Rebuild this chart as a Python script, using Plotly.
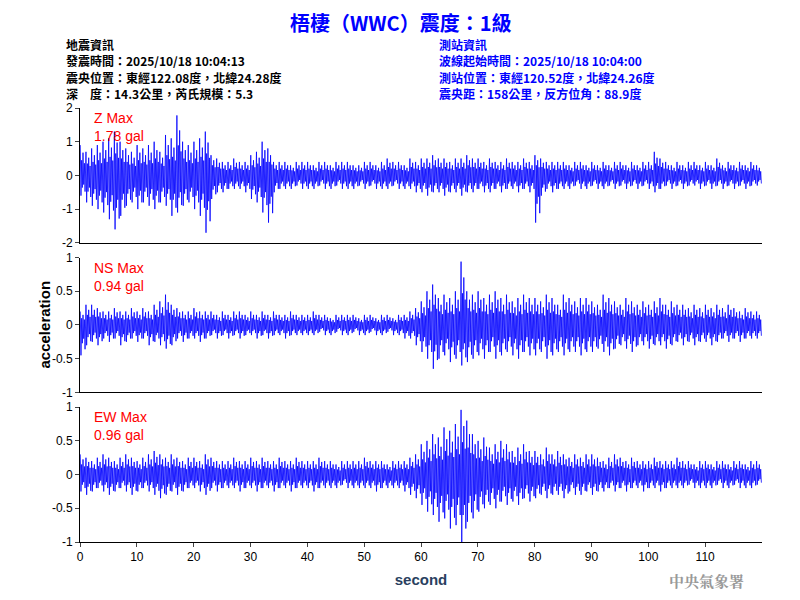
import plotly.graph_objects as go
from plotly.subplots import make_subplots

seconds = list(range(120))
z_hi = [0.9,0.7,0.8,0.9,1.0,1.1,1.3,1.0,0.8,0.7, 0.9,0.8,0.9,1.0,0.7,1.2,1.1,1.78,1.0,0.9,
        1.0,1.1,1.3,0.6,0.5,0.4,0.4,0.5,0.4,0.4, 0.6,0.7,1.0,0.8,0.4,0.4,0.4,0.3,0.4,0.4,
        0.4,0.3,0.4,0.4,0.3,0.4,0.4,0.4,0.3,0.3, 0.4,0.4,0.3,0.4,0.5,0.4,0.4,0.3,0.5,0.4,
        0.5,0.5,0.6,0.5,0.5,0.4,0.5,0.5,0.6,0.5, 0.5,0.4,0.5,0.4,0.4,0.5,0.4,0.4,0.5,0.4,
        0.6,0.5,0.4,0.4,0.4,0.4,0.3,0.4,0.4,0.3, 0.4,0.3,0.4,0.3,0.4,0.4,0.3,0.4,0.3,0.4,
        0.4,0.7,0.5,0.4,0.3,0.4,0.3,0.4,0.4,0.3, 0.4,0.3,0.5,0.3,0.4,0.3,0.4,0.3,0.4,0.3]
z_lo = [-0.6,-0.8,-0.9,-1.0,-1.1,-1.3,-1.6,-1.2,-0.9,-0.8, -1.0,-0.8,-0.9,-1.0,-0.8,-0.9,-1.2,-1.1,-0.9,-0.8,
        -1.0,-1.2,-1.7,-0.7,-0.5,-0.5,-0.4,-0.4,-0.4,-0.5, -0.7,-0.8,-1.1,-1.4,-0.5,-0.4,-0.4,-0.4,-0.3,-0.4,
        -0.4,-0.4,-0.3,-0.4,-0.4,-0.3,-0.4,-0.4,-0.4,-0.3, -0.4,-0.3,-0.4,-0.4,-0.4,-0.3,-0.4,-0.4,-0.4,-0.5,
        -0.5,-0.6,-0.5,-0.5,-0.6,-0.5,-0.5,-0.6,-0.5,-0.5, -0.4,-0.5,-0.5,-0.4,-0.5,-0.4,-0.4,-0.5,-0.4,-0.5,
        -1.4,-0.6,-0.4,-0.5,-0.4,-0.4,-0.4,-0.3,-0.4,-0.4, -0.3,-0.4,-0.4,-0.3,-0.4,-0.3,-0.4,-0.3,-0.4,-0.3,
        -0.4,-0.5,-0.4,-0.3,-0.4,-0.3,-0.4,-0.3,-0.3,-0.4, -0.3,-0.4,-0.3,-0.4,-0.3,-0.4,-0.3,-0.4,-0.3,-0.3]
ns_hi = [0.2,0.3,0.3,0.25,0.2,0.2,0.25,0.2,0.2,0.25, 0.2,0.25,0.2,0.3,0.35,0.45,0.3,0.25,0.2,0.2,
         0.25,0.2,0.2,0.2,0.15,0.2,0.15,0.2,0.2,0.15, 0.2,0.15,0.2,0.15,0.2,0.15,0.15,0.2,0.15,0.15,
         0.15,0.2,0.15,0.15,0.1,0.15,0.15,0.15,0.15,0.1, 0.15,0.15,0.1,0.15,0.15,0.1,0.15,0.15,0.2,0.25,
         0.35,0.5,0.6,0.4,0.45,0.4,0.5,0.94,0.5,0.45, 0.5,0.4,0.45,0.5,0.4,0.45,0.35,0.4,0.45,0.4,
         0.4,0.35,0.45,0.4,0.3,0.45,0.4,0.35,0.4,0.4, 0.35,0.3,0.45,0.4,0.35,0.3,0.4,0.35,0.3,0.35,
         0.3,0.35,0.4,0.3,0.35,0.3,0.3,0.25,0.3,0.25, 0.3,0.25,0.3,0.25,0.3,0.25,0.2,0.25,0.2,0.2]
ns_lo = [-0.45,-0.3,-0.25,-0.3,-0.2,-0.25,-0.2,-0.3,-0.25,-0.2, -0.25,-0.2,-0.3,-0.25,-0.3,-0.35,-0.3,-0.2,-0.25,-0.2,
         -0.2,-0.25,-0.2,-0.15,-0.2,-0.15,-0.2,-0.15,-0.2,-0.15, -0.15,-0.2,-0.15,-0.2,-0.15,-0.15,-0.2,-0.15,-0.15,-0.15,
         -0.15,-0.15,-0.1,-0.15,-0.15,-0.1,-0.15,-0.15,-0.1,-0.15, -0.15,-0.1,-0.15,-0.15,-0.1,-0.15,-0.15,-0.2,-0.2,-0.3,
         -0.4,-0.5,-0.65,-0.5,-0.45,-0.55,-0.5,-0.6,-0.55,-0.5, -0.45,-0.5,-0.4,-0.5,-0.45,-0.4,-0.45,-0.5,-0.4,-0.45,
         -0.45,-0.4,-0.5,-0.45,-0.4,-0.45,-0.4,-0.4,-0.45,-0.4, -0.4,-0.35,-0.4,-0.45,-0.35,-0.3,-0.35,-0.4,-0.3,-0.3,
         -0.35,-0.3,-0.3,-0.35,-0.3,-0.25,-0.3,-0.25,-0.3,-0.25, -0.25,-0.3,-0.25,-0.2,-0.25,-0.2,-0.25,-0.2,-0.2,-0.2]
ew_hi = [0.3,0.25,0.2,0.25,0.3,0.25,0.2,0.25,0.3,0.25, 0.2,0.25,0.3,0.35,0.3,0.25,0.3,0.25,0.2,0.25,
         0.25,0.2,0.3,0.25,0.2,0.2,0.2,0.25,0.2,0.2, 0.25,0.2,0.25,0.2,0.2,0.25,0.2,0.2,0.25,0.2,
         0.2,0.2,0.25,0.2,0.2,0.15,0.2,0.2,0.2,0.2, 0.25,0.2,0.2,0.2,0.15,0.2,0.2,0.2,0.25,0.3,
         0.45,0.5,0.6,0.55,0.7,0.65,0.75,0.96,0.8,0.6, 0.5,0.55,0.4,0.45,0.5,0.45,0.35,0.4,0.45,0.35,
         0.35,0.3,0.4,0.3,0.35,0.3,0.25,0.3,0.25,0.3, 0.3,0.25,0.2,0.25,0.3,0.25,0.2,0.25,0.2,0.2,
         0.2,0.25,0.2,0.2,0.2,0.25,0.2,0.2,0.15,0.2, 0.2,0.15,0.2,0.2,0.15,0.2,0.2,0.15,0.2,0.2]
ew_lo = [-0.25,-0.3,-0.25,-0.2,-0.25,-0.3,-0.25,-0.2,-0.25,-0.3, -0.25,-0.2,-0.25,-0.3,-0.35,-0.3,-0.25,-0.3,-0.25,-0.2,
         -0.2,-0.25,-0.3,-0.2,-0.25,-0.2,-0.2,-0.2,-0.25,-0.2, -0.2,-0.25,-0.2,-0.2,-0.25,-0.2,-0.2,-0.25,-0.2,-0.2,
         -0.2,-0.25,-0.2,-0.2,-0.2,-0.2,-0.15,-0.2,-0.2,-0.2, -0.2,-0.2,-0.25,-0.2,-0.2,-0.2,-0.2,-0.25,-0.3,-0.35,
         -0.45,-0.55,-0.6,-0.7,-0.65,-0.8,-0.75,-1.0,-0.7,-0.65, -0.55,-0.5,-0.45,-0.5,-0.4,-0.45,-0.4,-0.45,-0.35,-0.4,
         -0.35,-0.3,-0.35,-0.3,-0.3,-0.35,-0.25,-0.3,-0.3,-0.25, -0.3,-0.25,-0.25,-0.2,-0.25,-0.2,-0.25,-0.2,-0.2,-0.25,
         -0.2,-0.2,-0.25,-0.2,-0.2,-0.2,-0.2,-0.15,-0.2,-0.2, -0.2,-0.2,-0.15,-0.2,-0.2,-0.15,-0.2,-0.2,-0.2,-0.15]

channels = [("Z Max", "1.78 gal", z_hi, z_lo, [-2, 2], [-2, -1, 0, 1, 2], ["-2", "-1", "0", "1", "2"]),
            ("NS Max", "0.94 gal", ns_hi, ns_lo, [-1, 1], [-1, -0.5, 0, 0.5, 1], ["-1", "-0.5", "0", "0.5", "1"]),
            ("EW Max", "0.96 gal", ew_hi, ew_lo, [-1, 1], [-1, -0.5, 0, 0.5, 1], ["-1", "-0.5", "0", "0.5", "1"])]

L, T, PW, PH = 72, 100, 682, 434
def px(x): return (x - L) / PW
def py(y): return 1 - (y - T) / PH

fig = make_subplots(rows=3, cols=1, shared_xaxes=True, vertical_spacing=0.034)
tf = dict(family="Arial", size=12, color="black")
sub_t = [0.05, 0.17, 0.29, 0.41, 0.53, 0.65, 0.77, 0.89]
for i, (name, val, hi, lo, rng, tv, tt) in enumerate(channels, start=1):
    xs, ys = [], []
    for t, h, l in zip(seconds, hi, lo):
        xs += [t + s for s in sub_t]
        ys += [h, l, h * 0.5, l * 0.6, h * 0.75, l * 0.45, h * 0.4, l * 0.8]
    fig.add_trace(go.Scatter(x=xs, y=ys, mode="lines", line=dict(color="#0000ff", width=0.8),
                             showlegend=False, hoverinfo="skip"), row=i, col=1)
    fig.update_yaxes(range=rng, tickvals=tv, ticktext=tt, showline=True, linecolor="black",
                     ticks="outside", ticklen=4, showgrid=False, zeroline=False, tickfont=tf,
                     row=i, col=1)
    fig.update_xaxes(range=[0, 120], showline=True, linecolor="black", showgrid=False,
                     zeroline=False, ticks="outside" if i == 3 else "", ticklen=4,
                     showticklabels=(i == 3), tickvals=list(range(0, 120, 10)),
                     tickfont=tf, row=i, col=1)
    yref = "y domain" if i == 1 else f"y{i} domain"
    fig.add_annotation(x=0.018, xref="x domain", y=1.0, yref=yref, xanchor="left", yanchor="top",
                       text=f"{name}<br>{val}", showarrow=False, align="left",
                       font=dict(family="Arial", size=14, color="#ff0000"))
fig.update_xaxes(title_text="<b>second</b>", title_font=dict(family="Arial", size=15), title_standoff=11, row=3, col=1)

cjk = "Noto Sans CJK TC"
fig.add_annotation(x=px(392), xref="paper", y=py(14), yref="paper", showarrow=False, yanchor="middle",
                   text="<b>梧棲（WWC）震度：1級</b>", font=dict(family=cjk, size=20, color="#0000ff"))
left = ["地震資訊", "發震時間：2025/10/18 10:04:13", "震央位置：東經122.08度，北緯24.28度", "深　度：14.3公里，芮氏規模：5.3"]
right = ["測站資訊", "波線起始時間：2025/10/18 10:04:00", "測站位置：東經120.52度，北緯24.26度", "震央距：158公里，反方位角：88.9度"]
for k, (a, b) in enumerate(zip(left, right)):
    yy = py(37 + 16 * k)
    fig.add_annotation(x=px(56), xref="paper", y=yy, yref="paper", xanchor="left", yanchor="middle",
                       showarrow=False, text=f"<b>{a}</b>", font=dict(family=cjk, size=12, color="black"))
    fig.add_annotation(x=px(429), xref="paper", y=yy, yref="paper", xanchor="left", yanchor="middle",
                       showarrow=False, text=f"<b>{b}</b>", font=dict(family=cjk, size=12, color="#0000ff"))
fig.add_annotation(x=px(25), xref="paper", y=py(317), yref="paper", textangle=-90, showarrow=False,
                   text="<b>acceleration</b>", font=dict(family="Arial", size=15, color="black"))
fig.add_annotation(x=px(738), xref="paper", y=py(572), yref="paper", xanchor="right", yanchor="middle",
                   showarrow=False, text="<b>中央氣象署</b>",
                   font=dict(family="Noto Serif CJK TC, Noto Sans CJK TC", size=15, color="#999999"))

fig.update_layout(width=800, height=600, plot_bgcolor="white", paper_bgcolor="white",
                  margin=dict(l=L, r=800 - L - PW, t=T, b=600 - T - PH))
fig.write_html("out.html")
